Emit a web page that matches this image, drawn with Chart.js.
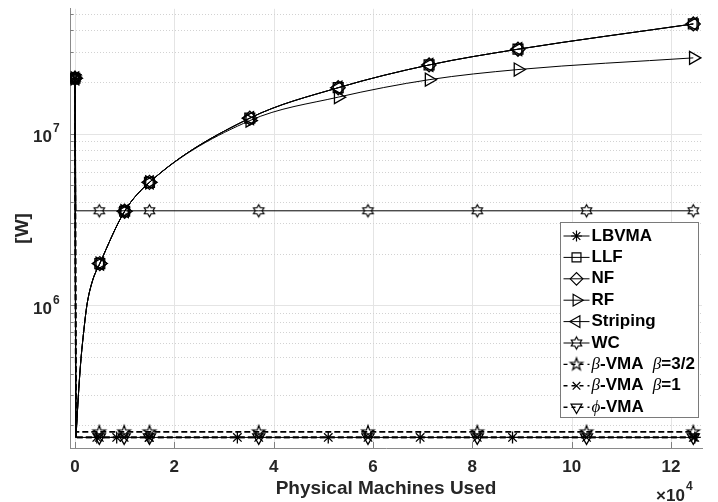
<!DOCTYPE html>
<html>
<head>
<meta charset="utf-8">
<script src="https://cdn.jsdelivr.net/npm/chart.js@4/dist/chart.umd.min.js"></script>
<style>
  html, body { margin: 0; padding: 0; background: #fff; }
  #wrap { width: 718px; height: 502px; }
</style>
</head>
<body>
<div id="wrap"><canvas id="c" width="718" height="502"></canvas></div>
<script>
// ---- data: physical machines used (x) and power in W (y) ----
const xTickValues = [0, 20000, 40000, 60000, 80000, 100000, 120000];
const yTickValues = [2e5, 3e5, 4e5, 5e5, 6e5, 7e5, 8e5, 9e5,
                     1e6, 2e6, 3e6, 4e6, 5e6, 6e6, 7e6, 8e6, 9e6,
                     1e7, 2e7, 3e7, 4e7, 5e7];
const yLabelExponents = [6, 7];

// LLF, NF and Striping share the same curve; RF bends away above ~3e4 PMs
const curvePM     = [0, 200, 340, 660, 1140, 1800, 2400, 3500, 5000, 10000, 15000, 35200, 53000, 71300, 89200, 124500];
const curvePower  = [2.1e7, 1.7e5, 2.0e5, 2.9e5, 4.6e5, 7.2e5, 1.0e6, 1.38e6, 1.75e6, 3.53e6, 5.2e6, 1.23e7, 1.85e7, 2.51e7, 3.1e7, 4.35e7];
const rfPower     = [2.1e7, 1.7e5, 2.0e5, 2.9e5, 4.6e5, 7.2e5, 1.0e6, 1.38e6, 1.75e6, 3.53e6, 5.2e6, 1.19e7, 1.63e7, 2.06e7, 2.36e7, 2.76e7];
const curveMarkPM = [0, 5000, 10000, 15000, 35200, 53000, 71300, 89200, 124500];

const lbvmaPM     = [0, 200, 4400, 8400, 14900, 32700, 51000, 69500, 88100, 124800];
const lbvmaPower  = [2.1e7, 1.70e5, 1.70e5, 1.70e5, 1.70e5, 1.70e5, 1.70e5, 1.70e5, 1.70e5, 1.70e5];

const wcPM        = [0, 200, 4900, 9900, 15000, 37000, 59000, 81000, 103000, 124500];
const wcPower     = [2.1e7, 3.55e6, 3.55e6, 3.55e6, 3.55e6, 3.55e6, 3.55e6, 3.55e6, 3.55e6, 3.55e6];
const beta32Power = [2.1e7, 1.83e5, 1.83e5, 1.83e5, 1.83e5, 1.83e5, 1.83e5, 1.83e5, 1.83e5, 1.83e5];
const beta1Power  = [2.1e7, 1.70e5, 1.70e5, 1.70e5, 1.70e5, 1.70e5, 1.70e5, 1.70e5, 1.70e5, 1.70e5];
const phiPower    = [2.1e7, 1.70e5, 1.70e5, 1.70e5, 1.70e5, 1.70e5, 1.70e5, 1.70e5, 1.70e5, 1.70e5];
const wcMarkPM    = [0, 4900, 9900, 15000, 37000, 59000, 81000, 103000, 124500];
const lbvmaMarkPM = [0, 4400, 8400, 14900, 32700, 51000, 69500, 88100, 124800];

const FONT = '"Liberation Sans", Arial, Helvetica, sans-serif';
const GREEK = '"Liberation Serif", "DejaVu Serif", serif';
const TEXT = '#262626';

// outlined star markers (hexagram / pentagram)
function starMarker(points, outer, inner, lw) {
  const size = Math.ceil(outer * 2 + lw * 2 + 2);
  const cv = document.createElement('canvas');
  cv.width = cv.height = size;
  const g = cv.getContext('2d');
  g.translate(size / 2, size / 2);
  g.beginPath();
  for (let i = 0; i < points * 2; i++) {
    const r = i % 2 ? inner : outer;
    const a = -Math.PI / 2 + i * Math.PI / points;
    g.lineTo(r * Math.cos(a), r * Math.sin(a));
  }
  g.closePath();
  g.lineWidth = lw;
  g.strokeStyle = '#000';
  g.stroke();
  return cv;
}
const hexagram = starMarker(6, 6, 6 / Math.sqrt(3), 1.2);
const pentagram = starMarker(5, 6.5, 2.6, 1.2);

function series(label, xs, ys, marks, m) {
  return {
    label,
    data: xs.map((x, i) => ({ x, y: ys[i] })),
    borderColor: '#000',
    borderWidth: m.dash ? 1.6 : 1,
    borderDash: m.dash ? [6, 3] : [],
    backgroundColor: 'rgba(0,0,0,0)',
    pointStyle: m.style,
    rotation: m.rot || 0,
    pointRadius: xs.map(x => marks.includes(x) ? m.r : 0),
    pointBorderWidth: 1.3,
    pointBorderColor: '#000',
    pointBackgroundColor: 'rgba(0,0,0,0)',
    cubicInterpolationMode: m.smooth ? 'monotone' : 'default',
    fill: false,
    legendMarker: m
  };
}

const datasets = [
  series('LBVMA', lbvmaPM, lbvmaPower, lbvmaMarkPM, { style: 'star', r: 6 }),
  series('LLF', curvePM, curvePower, curveMarkPM, { style: 'rect', r: 7, smooth: true }),
  series('NF', curvePM, curvePower, curveMarkPM, { style: 'rectRot', r: 7, smooth: true }),
  series('RF', curvePM, rfPower, curveMarkPM, { style: 'triangle', rot: 90, r: 7.5, smooth: true }),
  series('Striping', curvePM, curvePower, curveMarkPM, { style: 'triangle', rot: -90, r: 7.5, smooth: true }),
  series('WC', wcPM, wcPower, wcMarkPM, { style: hexagram, r: 6 }),
  series('beta32', wcPM, beta32Power, wcMarkPM, { style: pentagram, r: 6, dash: true }),
  series('beta1', wcPM, beta1Power, wcMarkPM, { style: 'crossRot', r: 6, dash: true }),
  series('phi', wcPM, phiPower, wcMarkPM, { style: 'triangle', rot: 180, r: 7, dash: true })
];

// legend rows: text runs as [text, isGreek]
const legendRows = [
  [['LBVMA', false]],
  [['LLF', false]],
  [['NF', false]],
  [['RF', false]],
  [['Striping', false]],
  [['WC', false]],
  [['\u03B2', true], ['-VMA  ', false], ['\u03B2', true], ['=3/2', false]],
  [['\u03B2', true], ['-VMA  ', false], ['\u03B2', true], ['=1', false]],
  [['\u03D5', true], ['-VMA', false]]
];

// grid lines, inward ticks, axis labels and the legend box
const axesPlugin = {
  id: 'matAxes',
  beforeDatasetsDraw(chart) {
    const { ctx, chartArea: a, scales: { x, y } } = chart;
    ctx.save();
    ctx.lineWidth = 1;
    xTickValues.forEach(v => {
      const px = Math.round(x.getPixelForValue(v)) + 0.5;
      ctx.strokeStyle = '#e4e4e4';
      ctx.setLineDash([]);
      ctx.beginPath(); ctx.moveTo(px, a.top); ctx.lineTo(px, a.bottom); ctx.stroke();
      ctx.strokeStyle = '#808080';
      ctx.beginPath(); ctx.moveTo(px, a.bottom); ctx.lineTo(px, a.bottom - 6); ctx.stroke();
    });
    yTickValues.forEach(v => {
      const py = Math.round(y.getPixelForValue(v)) + 0.5;
      const major = Math.abs(Math.log10(v) - Math.round(Math.log10(v))) < 1e-9;
      ctx.strokeStyle = major ? '#e4e4e4' : '#d2d2d2';
      ctx.setLineDash(major ? [] : [1, 2]);
      ctx.beginPath(); ctx.moveTo(a.left, py); ctx.lineTo(a.right, py); ctx.stroke();
      ctx.setLineDash([]);
      ctx.strokeStyle = '#808080';
      ctx.beginPath(); ctx.moveTo(a.left, py); ctx.lineTo(a.left + (major ? 6 : 3.5), py); ctx.stroke();
    });
    ctx.restore();
  },
  afterDraw(chart) {
    const { ctx, scales: { y } } = chart;
    ctx.save();
    ctx.fillStyle = TEXT;
    // power-of-ten labels on the y axis
    yLabelExponents.forEach(e => {
      const py = y.getPixelForValue(Math.pow(10, e));
      ctx.font = 'bold 17px ' + FONT;
      ctx.textAlign = 'right';
      ctx.textBaseline = 'middle';
      ctx.fillText('10', 52, py + 4);
      ctx.font = 'bold 12px ' + FONT;
      ctx.textAlign = 'left';
      ctx.fillText(String(e), 53, py - 5);
    });
    // x-axis multiplier
    ctx.font = 'bold 17px ' + FONT;
    ctx.textAlign = 'left';
    ctx.textBaseline = 'middle';
    ctx.fillText('\u00D710', 656, 496);
    ctx.font = 'bold 12px ' + FONT;
    ctx.fillText('4', 686, 487);

    // legend
    const box = { x: 560.5, y: 222.5, w: 138, h: 195 };
    ctx.fillStyle = '#fff';
    ctx.fillRect(box.x, box.y, box.w, box.h);
    ctx.strokeStyle = '#7a7a7a';
    ctx.lineWidth = 1;
    ctx.strokeRect(box.x, box.y, box.w, box.h);
    const draw = Chart.helpers && Chart.helpers.drawPoint;
    datasets.forEach((ds, i) => {
      const cy = box.y + 13.5 + i * 21.4;
      const m = ds.legendMarker;
      ctx.strokeStyle = '#000';
      ctx.lineWidth = m.dash ? 1.4 : 1;
      ctx.setLineDash(m.dash ? [4, 4] : []);
      ctx.beginPath(); ctx.moveTo(box.x + 3, cy); ctx.lineTo(box.x + 29, cy); ctx.stroke();
      ctx.setLineDash([]);
      if (draw) {
        ctx.save();
        ctx.strokeStyle = '#000';
        ctx.fillStyle = 'rgba(0,0,0,0)';
        ctx.lineWidth = 1.2;
        draw(ctx, { pointStyle: m.style, rotation: m.rot || 0, radius: m.r * 0.9, borderWidth: 1.2 }, box.x + 16, cy);
        ctx.restore();
      }
      let tx = box.x + 31;
      ctx.fillStyle = '#000';
      ctx.textAlign = 'left';
      ctx.textBaseline = 'middle';
      legendRows[i].forEach(([t, greek]) => {
        ctx.font = greek ? 'italic 17px ' + GREEK : 'bold 17px ' + FONT;
        ctx.fillText(t, tx, cy);
        tx += ctx.measureText(t).width;
      });
    });
    ctx.restore();
  }
};

new Chart(document.getElementById('c'), {
  type: 'line',
  data: { datasets },
  options: {
    responsive: false,
    animation: false,
    events: [],
    layout: { padding: { left: 0, right: 16, top: 8, bottom: 0 } },
    plugins: { legend: { display: false }, tooltip: { enabled: false } },
    scales: {
      x: {
        type: 'linear',
        min: -1000,
        max: 126250,
        afterBuildTicks: s => { s.ticks = xTickValues.map(v => ({ value: v })); },
        afterFit: s => { s.height = 54; },
        grid: { display: false, drawTicks: false },
        border: { display: true, color: '#8a8a8a', width: 1 },
        ticks: {
          padding: 9,
          color: TEXT,
          font: { family: FONT, size: 17, weight: 'bold' },
          maxRotation: 0,
          callback: v => String(v / 1e4)
        },
        title: {
          display: true,
          text: 'Physical Machines Used',
          color: TEXT,
          font: { family: FONT, size: 19, weight: 'bold' },
          padding: { top: 0, bottom: 2 }
        }
      },
      y: {
        type: 'logarithmic',
        min: 1.475e5,
        max: 5.33e7,
        afterBuildTicks: s => { s.ticks = yTickValues.map(v => ({ value: v })); },
        afterFit: s => { s.width = 70; },
        grid: { display: false, drawTicks: false },
        border: { display: true, color: '#8a8a8a', width: 1 },
        ticks: { display: false },
        title: {
          display: true,
          text: '[W]',
          color: TEXT,
          font: { family: FONT, size: 19, weight: 'bold' },
          padding: { top: 11, bottom: 0 }
        }
      }
    }
  },
  plugins: [axesPlugin]
});
</script>
</body>
</html>
